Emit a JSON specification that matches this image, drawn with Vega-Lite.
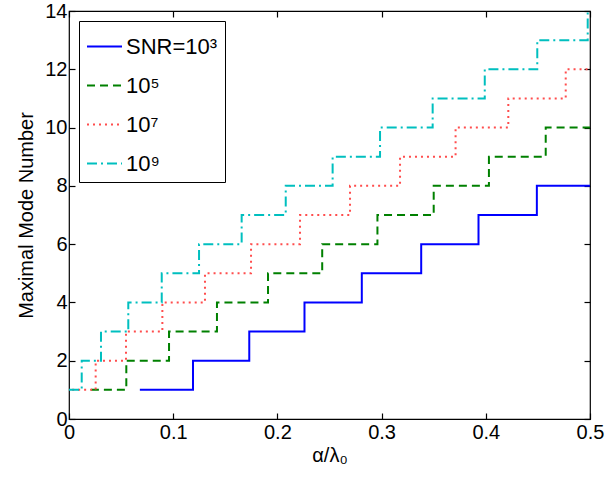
{
  "$schema": "https://vega.github.io/schema/vega-lite/v6.json",
  "width": 521,
  "height": 408,
  "autosize": "none",
  "padding": {"left": 69, "top": 11, "right": 17, "bottom": 59},
  "background": "white",
  "config": {
    "font": "Liberation Sans",
    "view": {"stroke": "black", "strokeWidth": 1.2},
    "axis": {"grid": false, "domain": false, "tickColor": "black", "labelColor": "black", "titleColor": "black", "labelFont": "Liberation Sans", "titleFont": "Liberation Sans", "labelFontSize": 20, "titleFontSize": 20, "titleFontWeight": "normal", "tickSize": -6, "tickWidth": 1.2},
    "legend": {"orient": "top-left", "offset": 10, "strokeColor": "black", "fillColor": "white", "padding": 7, "labelFontSize": 22, "labelFont": "Liberation Sans", "labelColor": "black", "symbolType": "stroke", "symbolSize": 1225, "symbolStrokeWidth": 2, "rowPadding": 9, "labelOffset": 3, "labelLimit": 300}
  },
  "data": {"values": [
    {"snr": "SNR=10³", "x": 0.068, "y": 1},
    {"snr": "SNR=10³", "x": 0.119, "y": 2},
    {"snr": "SNR=10³", "x": 0.173, "y": 3},
    {"snr": "SNR=10³", "x": 0.226, "y": 4},
    {"snr": "SNR=10³", "x": 0.281, "y": 5},
    {"snr": "SNR=10³", "x": 0.338, "y": 6},
    {"snr": "SNR=10³", "x": 0.393, "y": 7},
    {"snr": "SNR=10³", "x": 0.449, "y": 8},
    {"snr": "SNR=10³", "x": 0.5, "y": 8},
    {"snr": "10⁵", "x": 0.021, "y": 1},
    {"snr": "10⁵", "x": 0.055, "y": 2},
    {"snr": "10⁵", "x": 0.096, "y": 3},
    {"snr": "10⁵", "x": 0.142, "y": 4},
    {"snr": "10⁵", "x": 0.191, "y": 5},
    {"snr": "10⁵", "x": 0.243, "y": 6},
    {"snr": "10⁵", "x": 0.296, "y": 7},
    {"snr": "10⁵", "x": 0.350, "y": 8},
    {"snr": "10⁵", "x": 0.403, "y": 9},
    {"snr": "10⁵", "x": 0.4575, "y": 10},
    {"snr": "10⁵", "x": 0.5, "y": 10},
    {"snr": "10⁷", "x": 0.003, "y": 1},
    {"snr": "10⁷", "x": 0.0256, "y": 2},
    {"snr": "10⁷", "x": 0.0547, "y": 3},
    {"snr": "10⁷", "x": 0.0896, "y": 4},
    {"snr": "10⁷", "x": 0.1305, "y": 5},
    {"snr": "10⁷", "x": 0.1747, "y": 6},
    {"snr": "10⁷", "x": 0.2217, "y": 7},
    {"snr": "10⁷", "x": 0.2697, "y": 8},
    {"snr": "10⁷", "x": 0.3177, "y": 9},
    {"snr": "10⁷", "x": 0.371, "y": 10},
    {"snr": "10⁷", "x": 0.4216, "y": 11},
    {"snr": "10⁷", "x": 0.4767, "y": 12},
    {"snr": "10⁷", "x": 0.5, "y": 12},
    {"snr": "10⁹", "x": 0.0, "y": 1},
    {"snr": "10⁹", "x": 0.0122, "y": 2},
    {"snr": "10⁹", "x": 0.0307, "y": 3},
    {"snr": "10⁹", "x": 0.0569, "y": 4},
    {"snr": "10⁹", "x": 0.089, "y": 5},
    {"snr": "10⁹", "x": 0.1248, "y": 6},
    {"snr": "10⁹", "x": 0.1657, "y": 7},
    {"snr": "10⁹", "x": 0.208, "y": 8},
    {"snr": "10⁹", "x": 0.253, "y": 9},
    {"snr": "10⁹", "x": 0.2985, "y": 10},
    {"snr": "10⁹", "x": 0.349, "y": 11},
    {"snr": "10⁹", "x": 0.399, "y": 12},
    {"snr": "10⁹", "x": 0.4494, "y": 13},
    {"snr": "10⁹", "x": 0.4978, "y": 14},
    {"snr": "10⁹", "x": 0.5, "y": 14}
  ]},
  "resolve": {"axis": {"x": "independent", "y": "independent"}},
  "layer": [
    {
      "mark": {"type": "line", "interpolate": "step-after", "strokeWidth": 2},
      "encoding": {
        "x": {"field": "x", "type": "quantitative", "scale": {"domain": [0, 0.5], "nice": false, "zero": false},
              "axis": {"orient": "bottom", "title": "α/λ₀", "values": [0, 0.1, 0.2, 0.3, 0.4, 0.5], "format": "~g", "labelPadding": 9, "titlePadding": 3, "labelFlush": false}},
        "y": {"field": "y", "type": "quantitative", "scale": {"domain": [0, 14], "nice": false},
              "axis": {"orient": "left", "title": "Maximal Mode Number", "values": [0, 2, 4, 6, 8, 10, 12, 14], "labelPadding": 8, "titlePadding": 8}},
        "color": {"field": "snr", "type": "nominal", "title": null,
                  "scale": {"domain": ["SNR=10³", "10⁵", "10⁷", "10⁹"], "range": ["#0000ff", "#008000", "#ff4d4d", "#00bfbf"]}},
        "strokeDash": {"field": "snr", "type": "nominal", "title": null,
                  "scale": {"domain": ["SNR=10³", "10⁵", "10⁷", "10⁹"], "range": [[1, 0], [8, 5], [2, 4], [10, 4, 2, 4]]}}
      }
    },
    {
      "mark": {"type": "line", "opacity": 0},
      "encoding": {
        "x": {"field": "x", "type": "quantitative", "axis": {"orient": "top", "title": null, "labels": false, "values": [0, 0.1, 0.2, 0.3, 0.4, 0.5]}},
        "y": {"field": "y", "type": "quantitative", "axis": {"orient": "right", "title": null, "labels": false, "values": [0, 2, 4, 6, 8, 10, 12, 14]}},
        "detail": {"field": "snr", "type": "nominal"}
      }
    }
  ]
}
